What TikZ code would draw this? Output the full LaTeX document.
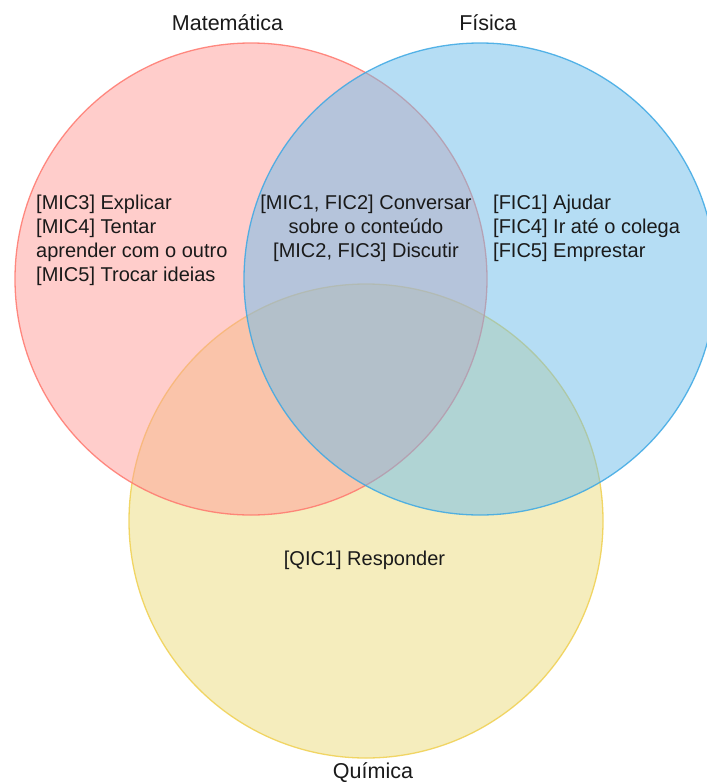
\documentclass[tikz,border=0pt]{standalone}
\usepackage{fontspec}
\setmainfont{Liberation Sans}
\definecolor{redfill}{RGB}{255,157,153}
\definecolor{redline}{RGB}{255,120,110}
\definecolor{bluefill}{RGB}{109,189,235}
\definecolor{blueline}{RGB}{60,168,228}
\definecolor{yelfill}{RGB}{237,221,125}
\definecolor{yelline}{RGB}{240,208,80}
\definecolor{txt}{RGB}{26,26,26}
\tikzset{
  setcircle/.style={circle, minimum size=472pt, inner sep=0pt, outer sep=0pt, line width=1.3pt, fill opacity=0.5, draw opacity=0.85},
  lbl/.style={font=\fontsize{20}{24}\selectfont, text=txt, inner sep=0pt},
  ttl/.style={font=\fontsize{21.5}{24}\selectfont, text=txt, inner sep=0pt},
}
\begin{document}
\begin{tikzpicture}[x=1pt,y=-1pt]
\useasboundingbox (0,0) rectangle (707,782);
\clip (0,0) rectangle (707,782);
\fill[white] (0,0) rectangle (707,782);
\node[setcircle, fill=yelfill, draw=yelline, minimum size=474pt] (qui) at (366,521) {};
\node[setcircle, fill=redfill, draw=redline] (mat) at (251,279) {};
\node[setcircle, fill=bluefill, draw=blueline] (fis) at (480,279) {};
\node[ttl] (tmat) at (227.5,23) {Matemática};
\node[ttl] (tfis) at (488,23) {Física};
\node[ttl] (tqui) at (373,773) {Química};
\node[lbl, anchor=west, align=left] (mic) at (36,240) {{[MIC3]} Explicar\\{[MIC4]} Tentar\\aprender com o outro\\{[MIC5]} Trocar ideias};
\node[lbl, align=center] (mf) at (366,228) {{[MIC1, FIC2]} Conversar\\sobre o conteúdo\\{[MIC2, FIC3]} Discutir};
\node[lbl, anchor=west, align=left] (fic) at (493,228) {{[FIC1]} Ajudar\\{[FIC4]} Ir até o colega\\{[FIC5]} Emprestar};
\node[lbl] (qic) at (364.5,560) {[QIC1] Responder};
\end{tikzpicture}
\end{document}
